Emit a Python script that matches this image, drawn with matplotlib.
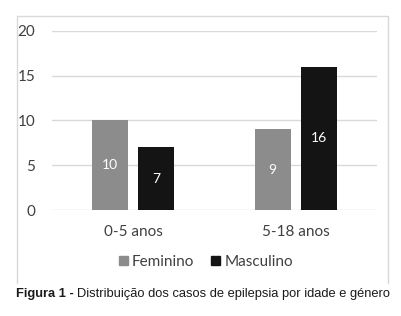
import numpy as np
import matplotlib
matplotlib.use('Agg')
import matplotlib.pyplot as plt
from matplotlib.lines import Line2D
from matplotlib.patches import Patch

categories = ['0-5 anos', '5-18 anos']
series = ['Feminino', 'Masculino']
feminino = [10, 9]
masculino = [7, 16]
yticks = [0, 5, 10, 15, 20]

colors = ['#8c8c8c', '#141414']
W, H = 401, 316

fig = plt.figure(figsize=(W / 100, H / 100), dpi=100)
fig.patch.set_facecolor('white')

# outer chart frame (no bottom edge visible in the original)
fx0, fx1, fy0, fy1 = 16.5 / W, 387.5 / W, 1 - 283 / H, 1 - 15.5 / H
frame = Line2D([fx0, fx0, fx1, fx1], [fy0, fy1, fy1, fy0], transform=fig.transFigure,
               color='#d9d9d9', linewidth=1.0)
fig.lines.append(frame)

ax = fig.add_axes([52 / W, 1 - 210 / H, 325 / W, 179 / H])
x = np.arange(len(categories))
bw = 0.222
off = 0.142
b1 = ax.bar(x - off, feminino, bw, color=colors[0], zorder=3)
b2 = ax.bar(x + off, masculino, bw, color=colors[1], zorder=3)

chart_font = ['Lato', 'DejaVu Sans']
for bars, vals in ((b1, feminino), (b2, masculino)):
    for rect, v in zip(bars, vals):
        ax.text(rect.get_x() + rect.get_width() / 2, v / 2, str(v),
                ha='center', va='center', color='white', fontsize=10,
                family=chart_font, zorder=4)

ax.set_xlim(-0.5, 1.5)
ax.set_ylim(0, 20)
ax.set_yticks(yticks)
ax.set_xticks(x)
ax.set_xticklabels(categories)
ax.yaxis.grid(True, color='#d9d9d9', linewidth=1.0, zorder=0)
for s in ax.spines.values():
    s.set_visible(False)
ax.tick_params(length=0, labelcolor='#404040', labelsize=11)
ax.tick_params(axis='y', pad=12)
ax.tick_params(axis='x', pad=11)
for lab in ax.get_xticklabels() + ax.get_yticklabels():
    lab.set_family(chart_font)

handles = [Patch(color=c, label=s) for c, s in zip(colors, series)]
fig.legend(handles=handles, loc='center', bbox_to_anchor=(206 / W, 1 - 262 / H),
           ncol=2, frameon=False, handlelength=0.6, handleheight=0.6,
           handletextpad=0.25, columnspacing=1.1,
           prop={'family': chart_font, 'size': 11}, labelcolor='#404040')

cap_font = ['Liberation Sans', 'DejaVu Sans']
t1 = fig.text(16 / W, 1 - 294 / H, 'Figura 1 - ', family=cap_font, fontweight='bold',
              fontsize=9.25, va='center', ha='left', color='#1a1a1a')
fig.canvas.draw()
bb = t1.get_window_extent()
fig.text(bb.x1 / W, 1 - 294 / H, 'Distribuição dos casos de epilepsia por idade e género',
         family=cap_font, fontsize=9.25, va='center', ha='left', color='#1a1a1a')

fig.savefig('out.png', dpi=100)
